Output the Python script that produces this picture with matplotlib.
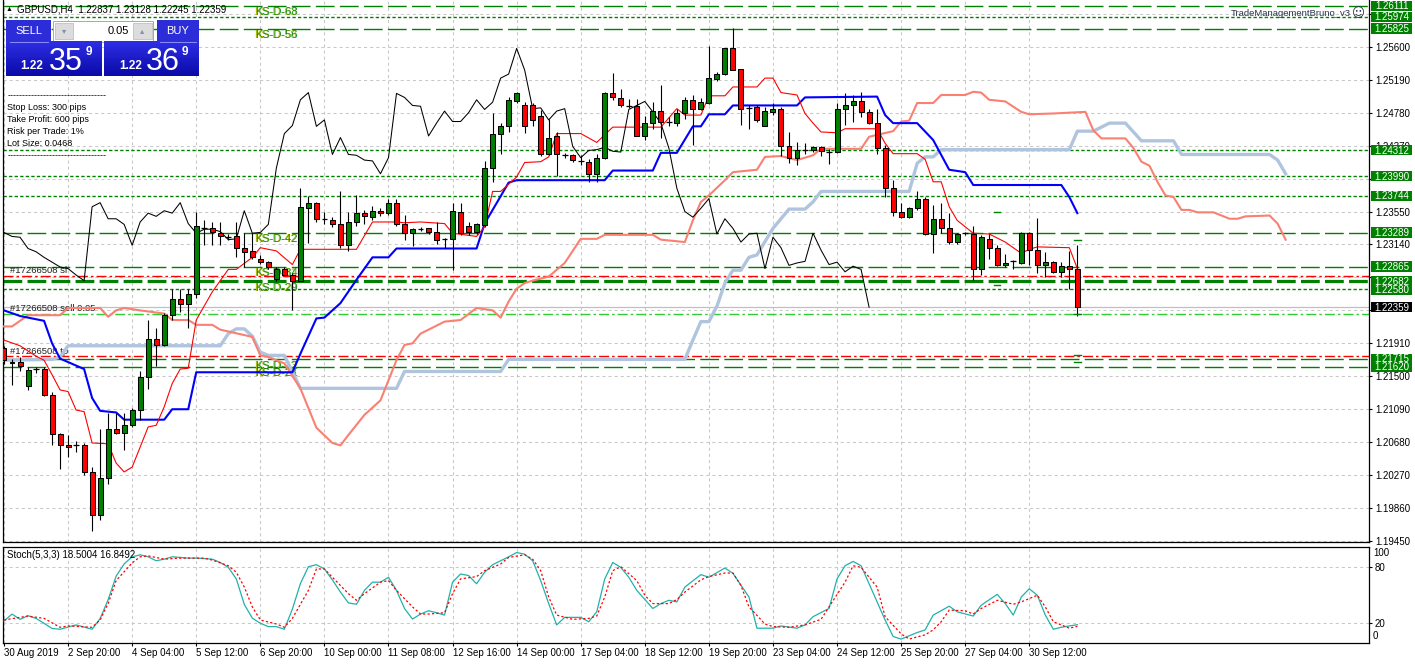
import matplotlib
matplotlib.use("Agg")
import matplotlib.pyplot as plt
import matplotlib.transforms as mtrans
from matplotlib.patches import Rectangle
from matplotlib.colors import LinearSegmentedColormap
import numpy as np

plt.rcParams['font.family'] = ['Liberation Sans', 'DejaVu Sans']
plt.rcParams['lines.scale_dashes'] = False

# ---------------- data ----------------
opens = [1.2185, 1.2166, 1.2168, 1.2138, 1.2159, 1.2159, 1.2127, 1.2078, 1.2064, 1.2064,
         1.2064, 1.2031, 1.1977, 1.2023, 1.2084, 1.2080, 1.2090, 1.2108, 1.2149, 1.2196,
         1.2189, 1.2226, 1.2246, 1.2240, 1.2252, 1.2335, 1.2335, 1.2328, 1.2323, 1.2324,
         1.2309, 1.2306, 1.2296, 1.2292, 1.2271, 1.2284, 1.2276, 1.2269, 1.2360, 1.2366,
         1.2346, 1.2345, 1.2339, 1.2313, 1.2342, 1.2353, 1.2348, 1.2356, 1.2353, 1.2366,
         1.2340, 1.2328, 1.2333, 1.2334, 1.2330, 1.2321, 1.2321, 1.2355, 1.2337, 1.2329,
         1.2338, 1.2409, 1.2452, 1.2462, 1.2492, 1.2488, 1.2487, 1.2474, 1.2426, 1.2449,
         1.2425, 1.2425, 1.2418, 1.2417, 1.2402, 1.2422, 1.2502, 1.2496, 1.2486, 1.2486,
         1.2449, 1.2465, 1.2480, 1.2467, 1.2465, 1.2478, 1.2494, 1.2483, 1.2490, 1.2520,
         1.2526, 1.2558, 1.2532, 1.2484, 1.2485, 1.2462, 1.2479, 1.2483, 1.2436, 1.2422,
         1.2432, 1.2431, 1.2435, 1.2429, 1.2429, 1.2482, 1.2487, 1.2492, 1.2479, 1.2465,
         1.2434, 1.2384, 1.2355, 1.2348, 1.2359, 1.2371, 1.2327, 1.2346, 1.2335, 1.2317,
         1.2328, 1.2327, 1.2284, 1.2321, 1.2310, 1.2288, 1.2293, 1.2291, 1.2328, 1.2307,
         1.2289, 1.2292, 1.2280, 1.2287, 1.22837]
highs = [1.2188, 1.2172, 1.2174, 1.2162, 1.2162, 1.2162, 1.2131, 1.2079, 1.2077, 1.2070,
         1.2067, 1.2037, 1.2085, 1.2104, 1.2104, 1.2104, 1.2111, 1.2157, 1.2220, 1.2210,
         1.2229, 1.2259, 1.2259, 1.2259, 1.2355, 1.2344, 1.2342, 1.2342, 1.2327, 1.2342,
         1.2328, 1.2328, 1.2301, 1.2294, 1.2286, 1.2286, 1.2278, 1.2384, 1.2374, 1.2367,
         1.2354, 1.2348, 1.2380, 1.2355, 1.2375, 1.2357, 1.2362, 1.2359, 1.2370, 1.2370,
         1.2351, 1.2334, 1.2336, 1.2335, 1.2342, 1.2322, 1.2366, 1.2366, 1.2342, 1.2341,
         1.2418, 1.2477, 1.2465, 1.2498, 1.2504, 1.2491, 1.2490, 1.2481, 1.2470, 1.2454,
         1.2428, 1.2427, 1.2425, 1.2420, 1.2427, 1.2504, 1.2527, 1.2507, 1.2495, 1.2495,
         1.2474, 1.2491, 1.2512, 1.2472, 1.2482, 1.2497, 1.2500, 1.2496, 1.2561, 1.2528,
         1.2558, 1.2583, 1.2532, 1.2488, 1.2488, 1.2485, 1.2490, 1.2485, 1.2454, 1.2442,
         1.2440, 1.2436, 1.2437, 1.2433, 1.2490, 1.2503, 1.2500, 1.2504, 1.2482, 1.2482,
         1.2438, 1.2394, 1.2365, 1.2361, 1.2380, 1.2373, 1.2363, 1.2365, 1.2353, 1.2328,
         1.2330, 1.2337, 1.2326, 1.2327, 1.2313, 1.2302, 1.2295, 1.2329, 1.2329, 1.2347,
         1.2305, 1.2294, 1.2292, 1.2306, 1.23128]
lows = [1.2165, 1.2139, 1.2157, 1.2133, 1.2154, 1.2126, 1.2064, 1.2035, 1.2050, 1.2056,
        1.2027, 1.1957, 1.1971, 1.2016, 1.2078, 1.2058, 1.2087, 1.2096, 1.2134, 1.2163,
        1.2188, 1.2220, 1.2230, 1.2210, 1.2248, 1.2313, 1.2313, 1.2313, 1.2320, 1.2299,
        1.2286, 1.2296, 1.2290, 1.2283, 1.2269, 1.2276, 1.2233, 1.2268, 1.2316, 1.2342,
        1.2339, 1.2336, 1.2309, 1.2306, 1.2337, 1.2340, 1.2344, 1.2350, 1.2351, 1.2337,
        1.2320, 1.2312, 1.2331, 1.2327, 1.2315, 1.2309, 1.2282, 1.2326, 1.2326, 1.2327,
        1.2336, 1.2392, 1.2427, 1.2454, 1.2490, 1.2453, 1.2461, 1.2424, 1.2425, 1.2399,
        1.2421, 1.2417, 1.2413, 1.2392, 1.2392, 1.2420, 1.2494, 1.2485, 1.2484, 1.2449,
        1.2444, 1.2458, 1.2447, 1.2462, 1.2462, 1.2470, 1.2438, 1.2481, 1.2489, 1.2517,
        1.2525, 1.2531, 1.2463, 1.2458, 1.2467, 1.2462, 1.2475, 1.2424, 1.2416, 1.2413,
        1.2426, 1.2429, 1.2424, 1.2414, 1.2428, 1.2463, 1.2466, 1.2473, 1.2464, 1.2427,
        1.2373, 1.2349, 1.2347, 1.2347, 1.2357, 1.2326, 1.2303, 1.2328, 1.2315, 1.2314,
        1.2326, 1.2270, 1.2276, 1.2296, 1.2287, 1.2286, 1.2284, 1.2290, 1.2288, 1.2278,
        1.2274, 1.2279, 1.2274, 1.2259, 1.22245]
closes = [1.2170, 1.2168, 1.2163, 1.2158, 1.2159, 1.2127, 1.2078, 1.2064, 1.2062, 1.2064,
          1.2031, 1.1977, 1.2023, 1.2085, 1.2080, 1.2090, 1.2108, 1.2149, 1.2196, 1.2189,
          1.2226, 1.2246, 1.2240, 1.2252, 1.2337, 1.2335, 1.2329, 1.2324, 1.2323, 1.2309,
          1.2305, 1.2298, 1.2292, 1.2286, 1.2284, 1.2276, 1.2269, 1.2361, 1.2366, 1.2346,
          1.2346, 1.2339, 1.2313, 1.2342, 1.2353, 1.2349, 1.2356, 1.2353, 1.2366, 1.2340,
          1.2328, 1.2333, 1.2333, 1.2330, 1.2320, 1.2321, 1.2356, 1.2328, 1.2329, 1.2339,
          1.2409, 1.2452, 1.2462, 1.2494, 1.2503, 1.2461, 1.2469, 1.2426, 1.2447, 1.2426,
          1.2425, 1.2419, 1.2418, 1.2402, 1.2422, 1.2502, 1.2497, 1.2487, 1.2486, 1.2449,
          1.2465, 1.2480, 1.2467, 1.2467, 1.2478, 1.2494, 1.2482, 1.2491, 1.2521, 1.2526,
          1.2558, 1.2531, 1.2483, 1.2484, 1.2469, 1.2480, 1.2483, 1.2436, 1.2422, 1.2431,
          1.2432, 1.2435, 1.2430, 1.2429, 1.2482, 1.2487, 1.2492, 1.2479, 1.2465, 1.2434,
          1.2384, 1.2355, 1.2348, 1.2359, 1.2371, 1.2327, 1.2346, 1.2334, 1.2317, 1.2327,
          1.2328, 1.2284, 1.2323, 1.2310, 1.2288, 1.2291, 1.2293, 1.2328, 1.2307, 1.2289,
          1.2292, 1.2280, 1.2287, 1.2283, 1.22359]

# ichimoku lines, read as (bar, price) vertices
tenkan_bars = [0, 2, 4, 5, 6, 7, 8, 9, 10, 11, 13, 14, 15, 16, 18, 19, 20, 21, 22, 23,
               24, 26, 28, 29, 31, 32, 34, 36, 37, 44, 46, 49, 50, 52, 55, 56, 59, 60, 61, 62,
               64, 65, 67, 68, 69, 72, 74, 76, 82, 84, 85, 87, 88, 90, 91, 94, 95, 96, 97, 99,
               100, 101, 102, 104, 105, 109, 110, 111, 114, 115, 116, 117, 118, 119, 121, 123,
               125, 127, 128, 129, 133, 134]
tenkan_vals = [1.2195, 1.2188, 1.2175, 1.2170, 1.2152, 1.2133, 1.2131, 1.2108, 1.2106, 1.2067,
               1.2066, 1.2042, 1.2031, 1.2037, 1.2087, 1.2089, 1.2112, 1.2141, 1.2159, 1.2160,
               1.2220, 1.2255, 1.2283, 1.2283, 1.2298, 1.2310, 1.2306, 1.2289, 1.2308, 1.2308,
               1.2342, 1.2342, 1.2341, 1.2342, 1.2340, 1.2328, 1.2324, 1.2336, 1.2380, 1.2380,
               1.2398, 1.2416, 1.2417, 1.2423, 1.2452, 1.2452, 1.2441, 1.2460, 1.2460, 1.2483,
               1.2475, 1.2475, 1.2499, 1.2499, 1.2510, 1.2510, 1.2521, 1.2521, 1.2503, 1.2500,
               1.2477, 1.2465, 1.2454, 1.2453, 1.2458, 1.2458, 1.2440, 1.2427, 1.2427, 1.2420,
               1.2392, 1.2392, 1.2361, 1.2344, 1.2328, 1.2327, 1.2317, 1.2303, 1.2308, 1.2311,
               1.2310, 1.2284]
kijun_bars = [0, 2, 5, 6, 7, 10, 11, 12, 14, 15, 20, 21, 23, 24, 36, 37, 39, 40, 42, 44,
              46, 48, 49, 59, 60, 63, 64, 75, 76, 81, 82, 84, 86, 87, 88, 90, 91, 99, 100, 109,
              110, 111, 114, 116, 118, 120, 121, 132, 133, 134]
kijun_vals = [1.2232, 1.2225, 1.2219, 1.2191, 1.2172, 1.2159, 1.2123, 1.2107, 1.2105, 1.2096,
              1.2096, 1.2109, 1.2109, 1.2155, 1.2155, 1.2178, 1.2222, 1.2223, 1.2241, 1.2270,
              1.2298, 1.2298, 1.2309, 1.2309, 1.2340, 1.2391, 1.2394, 1.2394, 1.2406, 1.2406,
              1.2428, 1.2428, 1.2461, 1.2461, 1.2476, 1.2476, 1.2487, 1.2487, 1.2497, 1.2498,
              1.2475, 1.2465, 1.2465, 1.2444, 1.2407, 1.2404, 1.2388, 1.2388, 1.2373, 1.2353]
span_a_bars = [0, 1, 3, 7, 8, 12, 13, 14, 15, 17, 20, 21, 23, 24, 26, 27, 31, 32, 33, 35,
               37, 39, 41, 42, 43, 45, 47, 49, 50, 51, 52, 55, 57, 59, 61, 62, 63, 64, 65, 66,
               68, 70, 72, 74, 75, 81, 82, 85, 86, 87, 88, 90, 91, 94, 95, 97, 99, 101, 102, 107,
               108, 111, 112, 113, 114, 116, 117, 120, 121, 122, 123, 125, 127, 128, 131, 135,
               136, 137, 140, 141, 142, 143, 144, 145, 146, 147, 148, 149, 151, 153, 154, 155,
               158, 159, 160]
span_a_vals = [1.2212, 1.2212, 1.2226, 1.2226, 1.2235, 1.2235, 1.2224, 1.2232, 1.2235, 1.2232,
               1.2228, 1.2220, 1.2220, 1.2214, 1.2214, 1.2208, 1.2199, 1.2176, 1.2174, 1.2166,
               1.2135, 1.2086, 1.2067, 1.2064, 1.2077, 1.2102, 1.2120, 1.2170, 1.2189, 1.2191,
               1.2203, 1.2218, 1.2220, 1.2235, 1.2232, 1.2223, 1.2243, 1.2259, 1.2266, 1.2269,
               1.2274, 1.2291, 1.2321, 1.2321, 1.2326, 1.2326, 1.2320, 1.2317, 1.2344, 1.2367,
               1.2375, 1.2394, 1.2404, 1.2407, 1.2423, 1.2424, 1.2419, 1.2425, 1.2433, 1.2433,
               1.2448, 1.2455, 1.2467, 1.2468, 1.2490, 1.2490, 1.2500, 1.2500, 1.2504, 1.2503,
               1.2494, 1.2492, 1.2479, 1.2476, 1.2477, 1.2479, 1.2456, 1.2446, 1.2446, 1.2434,
               1.2417, 1.2412, 1.2392, 1.2375, 1.2373, 1.2357, 1.2357, 1.2354, 1.2354, 1.2346,
               1.2346, 1.2349, 1.2350, 1.2340, 1.2320]
span_b_bars = [0, 6, 7, 8, 27, 28, 29, 30, 31, 32, 33, 35, 37, 49, 50, 62, 63, 85, 86, 87,
               88, 89, 90, 91, 92, 93, 94, 96, 98, 100, 101, 102, 113, 114, 115, 116, 117, 133,
               134, 136, 138, 140, 142, 146, 147, 158, 159, 160]
span_b_vals = [1.2170, 1.2171, 1.2174, 1.2188, 1.2188, 1.2203, 1.2209, 1.2209, 1.2200, 1.2180,
               1.2176, 1.2176, 1.2135, 1.2135, 1.2156, 1.2156, 1.2171, 1.2171, 1.2195, 1.2218,
               1.2218, 1.2237, 1.2266, 1.2282, 1.2282, 1.2298, 1.2301, 1.2334, 1.2358, 1.2358,
               1.2367, 1.2380, 1.2380, 1.2415, 1.2423, 1.2423, 1.2432, 1.2432, 1.2455, 1.2455,
               1.2465, 1.2465, 1.2443, 1.2443, 1.2426, 1.2426, 1.2419, 1.2402]
chikou_shift = 26

# stochastic (5,3,3)
stoch_bars = [0, 1, 2, 3, 4, 5, 6, 7, 9, 11, 12, 13, 14, 15, 16, 17, 18, 19, 20, 21, 23, 24,
              26, 27, 28, 29, 30, 31, 32, 33, 34, 35, 36, 37, 38, 39, 40, 41, 42, 43, 44, 45,
              46, 47, 48, 49, 50, 51, 52, 53, 54, 55, 56, 57, 58, 59, 60, 61, 62, 63, 64, 65,
              66, 67, 68, 69, 70, 72, 73, 74, 75, 76, 77, 78, 79, 81, 82, 83, 84, 85, 87, 88,
              90, 91, 93, 94, 96, 97, 99, 100, 101, 103, 104, 105, 106, 107, 108, 110, 111,
              112, 114, 115, 116, 118, 119, 121, 122, 124, 125, 126, 127, 128, 129, 130, 131,
              132, 133, 134]
stoch_main = [22.4, 29.8, 24.2, 28.0, 25.2, 20.0, 14.5, 13.7, 18.3, 13.7, 25.0, 45.0, 70.0,
              83.0, 90.5, 92.6, 90.5, 86.3, 88.0, 90.5, 89.1, 89.1, 88.0, 84.5, 79.3, 67.1,
              40.0, 25.5, 20.0, 16.5, 16.5, 13.7, 35.0, 62.0, 80.0, 82.1, 77.6, 66.0, 53.1,
              41.6, 40.2, 54.9, 63.6, 63.6, 68.8, 54.9, 35.7, 24.5, 29.8, 33.3, 31.2, 28.7,
              63.6, 72.3, 70.6, 61.9, 74.1, 82.1, 86.3, 90.5, 95.0, 93.3, 86.3, 65.3, 40.9,
              18.3, 26.3, 26.3, 21.7, 32.2, 67.1, 84.5, 79.3, 68.8, 54.9, 35.7, 40.9, 44.4,
              42.7, 58.4, 71.6, 68.8, 78.6, 73.0, 47.9, 14.8, 14.8, 17.2, 14.8, 18.3, 27.0,
              35.7, 67.1, 81.0, 85.6, 81.0, 61.9, 23.5, 6.0, 3.3, 10.2, 13.0, 28.7, 38.1, 32.2,
              27.7, 39.2, 50.7, 40.9, 28.7, 47.9, 56.6, 49.7, 28.7, 13.7, 15.8, 17.2, 18.5]
signal_bars = [0, 3, 5, 7, 8, 11, 12, 13, 14, 16, 17, 18, 20, 22, 25, 26, 28, 29, 30, 31,
               32, 34, 35, 36, 38, 39, 40, 41, 43, 44, 45, 47, 48, 49, 51, 52, 53, 55, 56, 57,
               59, 60, 62, 63, 65, 66, 67, 68, 69, 71, 73, 74, 75, 76, 77, 79, 80, 81, 83, 84,
               85, 87, 88, 90, 91, 92, 93, 95, 96, 98, 100, 102, 103, 105, 106, 107, 109, 110,
               112, 113, 115, 116, 117, 118, 120, 121, 122, 124, 126, 127, 129, 130, 131, 133, 134]
stoch_signal = [23.5, 27.7, 25.2, 15.8, 17.2, 15.8, 23.5, 40.9, 65.3, 84.0, 90.5, 91.5, 88.0,
                89.1, 89.1, 87.0, 81.0, 74.1, 58.4, 37.4, 23.5, 19.3, 15.8, 25.2, 54.9, 77.6,
                77.6, 68.8, 51.4, 44.4, 51.4, 63.6, 65.3, 54.9, 37.4, 29.8, 29.8, 31.2, 51.4,
                67.1, 69.5, 75.8, 82.8, 89.8, 92.6, 88.0, 75.8, 47.9, 28.7, 24.2, 25.2, 27.7,
                47.9, 75.8, 80.0, 65.3, 49.7, 40.9, 40.9, 45.1, 53.1, 66.1, 69.5, 73.3, 73.3,
                60.1, 37.4, 19.3, 16.5, 15.8, 18.3, 24.2, 37.4, 63.6, 81.0, 79.3, 58.4, 27.0,
                8.8, 3.3, 7.8, 13.0, 21.7, 34.0, 33.3, 29.8, 35.7, 44.4, 40.2, 42.7, 49.7, 37.4,
                21.7, 14.8, 16.8]

# horizontal objects
levels = [1.26111, 1.25974, 1.25825, 1.24312, 1.23990, 1.23744, 1.23289, 1.22865,
          1.22682, 1.22580, 1.21715, 1.21620]
level_kind = ['dash', 'dot', 'dash', 'dot', 'dot', 'dot', 'dash', 'dash',
              'thick', 'dot', 'dash', 'dash']
sl_price, tp_price, entry_price, bid_price = 1.22743, 1.21752, 1.22275, 1.22359
trade_marks = [(124, 1.2354), (124, 1.2263), (134, 1.2319), (134, 1.2228),
               (134, 1.2177), (134, 1.2168)]
ks_labels = [('KS-D-68', 'KS-D-63', 1.26033), ('KS-D-56', 'KS-D-58', 1.25746),
             ('KS-D-42', 'KS-D-42', 1.23208), ('KS-D-34', 'KS-D-31', 1.22789),
             ('KS-D-29', 'KS-D-20', 1.22595), ('KS-D-12', 'KS-D-13', 1.21628),
             ('KS-D-21', 'KS-D-28', 1.21544)]
trade_labels = [('#17266508 sl', 1.22814), ('#17266508 sell 0.05', 1.22346),
                ('#17266508 tp', 1.21806)]

price_ticks = [1.19450, 1.19860, 1.20270, 1.20680, 1.21090, 1.21500, 1.21910, 1.22320,
               1.22730, 1.23140, 1.23550, 1.23960, 1.24370, 1.24780, 1.25190, 1.25600, 1.26010]
time_ticks = list(range(0, 129, 8))
time_labels = ['30 Aug 2019', '2 Sep 20:00', '4 Sep 04:00', '5 Sep 12:00', '6 Sep 20:00',
               '10 Sep 00:00', '11 Sep 08:00', '12 Sep 16:00', '14 Sep 00:00', '17 Sep 04:00',
               '18 Sep 12:00', '19 Sep 20:00', '23 Sep 04:00', '24 Sep 12:00', '25 Sep 20:00',
               '27 Sep 04:00', '30 Sep 12:00']

# ---------------- figure ----------------
W, H = 1415, 664
fig = plt.figure(figsize=(W / 100, H / 100), dpi=100)


def px_axes(x0, y0, x1, y1, **kw):
    # axes placed by pixel box (top-left origin)
    return fig.add_axes([x0 / W, 1 - y1 / H, (x1 - x0) / W, (y1 - y0) / H], **kw)


ax = px_axes(3, 0, 1369, 542)
sx = px_axes(3, 547, 1369, 643)

y_top, y_bot = 1.26182, 1.19438
ppx = 542 / (y_top - y_bot)          # pixels per price unit
xlim = (-0.125, 170.41)
grid_kw = dict(color='#c8c8c8', linestyle=(0, (2.2, 2.2)), linewidth=0.75)

for a in (ax, sx):
    a.set_xlim(*xlim)
    a.set_xticks(time_ticks)
    a.grid(True, **grid_kw)
    for s in a.spines.values():
        s.set_linewidth(0.9)
        s.set_color('black')

# tick labels that sit under a price box are not visible on the terminal
boxed = levels + [bid_price]
tick_text = []
for p in price_ticks:
    hidden = min(abs(p - q) for q in boxed) * ppx < 4.5
    tick_text.append('' if hidden else '%.5f' % p)

ax.set_ylim(y_bot, y_top)
ax.spines['top'].set_visible(False)
ax.yaxis.tick_right()
ax.set_yticks(price_ticks)
ax.set_yticklabels(tick_text)
ax.tick_params(axis='y', length=2.5, width=0.8, pad=1.8, labelsize=7, colors='black')
ax.tick_params(axis='x', length=0, labelbottom=False)

# horizontal level lines (behind the bars)
styles = {'dash': ((0, (13.5, 3.8)), 1.0), 'dot': ((0, (2.4, 1.6)), 1.0),
          'thick': ((0, (13.5, 3.8)), 2.3)}
for p, k in zip(levels, level_kind):
    ls, lw = styles[k]
    ax.axhline(p, color='#008000', linestyle=ls, linewidth=lw, zorder=2)
dashdot = (0, (7.2, 2.2, 1.8, 2.2))
ax.axhline(sl_price, color='#ff0000', linestyle=dashdot, linewidth=1.0, zorder=2)
ax.axhline(tp_price, color='#ff0000', linestyle=dashdot, linewidth=1.0, zorder=2)
ax.axhline(entry_price, color='#32cd32', linestyle=dashdot, linewidth=1.0, zorder=2)
ax.axhline(bid_price, color='#c0c0c0', linewidth=0.9, zorder=2)

# labels of the objects
for front, back, p in ks_labels:
    ax.text(31.2, p, back, color='#b4c000', fontsize=8, va='center', zorder=2.4)
    ax.text(31.3, p, front, color='#008000', fontsize=8, va='center', zorder=2.5, alpha=0.85)
for t, p in trade_labels:
    ax.text(0.75, p, t, color='#202020', fontsize=6.8, va='center', zorder=2.5)

# ichimoku
ax.plot(span_b_bars, span_b_vals, color='#b0c4de', lw=2.4, zorder=3)
ax.plot(span_a_bars, span_a_vals, color='#fa8072', lw=1.5, zorder=3)
ax.plot(kijun_bars, kijun_vals, color='#0000ff', lw=1.5, zorder=3.2)
ax.plot(tenkan_bars, tenkan_vals, color='#ff0000', lw=0.8, zorder=3.3)
cl = np.array(closes)
ax.plot(np.arange(chikou_shift, len(cl)) - chikou_shift, cl[chikou_shift:],
        color='black', lw=0.75, zorder=3.3)

# candles
o, h, l, c = map(np.array, (opens, highs, lows, closes))
idx = np.arange(len(c))
ax.vlines(idx, l, h, color='black', lw=0.8, zorder=5)
doji = np.abs(c - o) < 0.00003
body = ~doji
ax.bar(idx[body], (c - o)[body], bottom=o[body], width=0.62,
       color=np.where(c[body] > o[body], '#008000', '#ff0000'),
       edgecolor='black', linewidth=0.75, zorder=6)
ax.hlines(c[doji], idx[doji] - 0.36, idx[doji] + 0.36, color='black', lw=0.9, zorder=6)

for b, p in trade_marks:
    ax.plot([b - 0.4, b + 0.4], [p, p], color='#008000', lw=1.0, zorder=7)

# price boxes on the right axis
tr = mtrans.blended_transform_factory(ax.transAxes, ax.transData)


def price_box(p, fc):
    hh = 5.2 / ppx
    ax.add_patch(Rectangle((1.0011, p - hh), 0.0307, 2 * hh, transform=tr, fc=fc,
                           ec='none', clip_on=False, zorder=20))
    ax.text(1.0168, p - 0.4 / ppx, '%.5f' % p, transform=tr, color='white', fontsize=7,
            ha='center', va='center', clip_on=False, zorder=21)


for p in levels:
    price_box(p, '#008000')
price_box(bid_price, 'black')

# ---------------- stochastic ----------------
sx.set_ylim(-0.88, 100.88)
sx.yaxis.tick_right()
sx.set_yticks([20, 80])
sx.set_yticklabels(['20', '80'])
sx.tick_params(axis='y', length=2.5, width=0.8, pad=1.5, labelsize=7)
sx.set_xticklabels(time_labels)
sx.tick_params(axis='x', length=2.5, width=0.8, pad=1.2, labelsize=7)
for t in sx.get_xticklabels():
    t.set_horizontalalignment('left')
str_ = mtrans.blended_transform_factory(sx.transAxes, sx.transData)
sx.text(1.003, 94.5, '100', transform=str_, fontsize=7, va='center', clip_on=False)
sx.text(1.003, 6.5, '0', transform=str_, fontsize=7, va='center', clip_on=False)
sx.plot(stoch_bars, stoch_main, color='#20b2aa', lw=0.9, zorder=3)
sx.plot(signal_bars, stoch_signal, color='#ff0000', lw=0.9, linestyle=(0, (1.6, 1.6)), zorder=3)
sx.text(0.003, 0.915, 'Stoch(5,3,3) 18.5004 16.8492', transform=sx.transAxes,
        fontsize=7, va='center')

# ---------------- terminal overlays (pixel coordinates) ----------------
ov = fig.add_axes([0, 0, 1, 1], zorder=30)
ov.set_xlim(0, W)
ov.set_ylim(H, 0)
ov.axis('off')

ov.text(6, 9.5, '\u25b2', fontsize=5, va='center', color='black')
ov.text(17, 9.5, 'GBPUSD,H4  1.22837 1.23128 1.22245 1.22359', fontsize=7, va='center')
ov.text(1351, 13, 'TradeManagementBruno_v3', fontsize=6.8, va='center', ha='right',
        color='#28324c')
ov.text(1358, 13.5, '\u263a', fontsize=9, va='center', ha='center', color='#28324c',
        family='DejaVu Sans')

# one-click trading panel
btn = '#2c2cd8'
ov.add_patch(Rectangle((6, 20), 45, 21.7, fc=btn, ec='none'))
ov.add_patch(Rectangle((156.7, 20), 42.3, 21.7, fc=btn, ec='none'))
ov.plot([10, 48], [41.5, 41.5], color='#8c8cff', lw=0.7)
ov.plot([160, 196], [41.5, 41.5], color='#8c8cff', lw=0.7)
ov.text(28.5, 31, 'SELL', color='white', fontsize=8, ha='center', va='center')
ov.text(178, 31, 'BUY', color='white', fontsize=8, ha='center', va='center')
ov.add_patch(Rectangle((52.7, 20.7), 100.6, 21, fc='white', ec='#a8a8a8', lw=0.7))
ov.add_patch(Rectangle((55, 23), 18, 16, fc='#dcdcdc', ec='#c0c0c0', lw=0.6))
ov.add_patch(Rectangle((132.5, 23), 19.5, 16, fc='#dcdcdc', ec='#c0c0c0', lw=0.6))
ov.text(64, 31, '\u25be', fontsize=6, ha='center', va='center', color='#7f8fb0',
        family='DejaVu Sans')
ov.text(142.2, 31, '\u25b4', fontsize=6, ha='center', va='center', color='#7f8fb0',
        family='DejaVu Sans')
ov.text(128.5, 31, '0.05', fontsize=8, ha='right', va='center', color='black')

grad = LinearSegmentedColormap.from_list('mtblue', ['#2e2ee6', '#0a0aa8'])
g = np.linspace(0, 1, 64).reshape(-1, 1)
for x0, x1 in ((6, 101.7), (104, 199)):
    ov.imshow(g, cmap=grad, extent=[x0, x1, 76, 41.9], aspect='auto', origin='upper',
              zorder=1)
for x_small, x_big, x_sup, big in ((20.5, 48.5, 86, '35'), (119, 146, 182, '36')):
    ov.text(x_small, 69.3, '1.22', color='white', fontsize=8.5, fontweight='bold',
            va='baseline', zorder=2)
    ov.text(x_big, 70, big, color='white', fontsize=22, va='baseline', zorder=2)
    ov.text(x_sup, 55, '9', color='white', fontsize=8.5, fontweight='bold',
            va='baseline', zorder=2)
ov.set_xlim(0, W)
ov.set_ylim(H, 0)

# money management text block
dash_row = '-' * 33
panel_rows = [(96, dash_row), (107.7, 'Stop Loss: 300 pips'), (119.5, 'Take Profit: 600 pips'),
              (131.4, 'Risk per Trade: 1%'), (143.3, 'Lot Size: 0.0468'), (155.7, dash_row)]
for yy, t in panel_rows:
    ov.text(7.3, yy, t, fontsize=6.5, va='center', color='black')

fig.savefig('out.png', dpi=100)
